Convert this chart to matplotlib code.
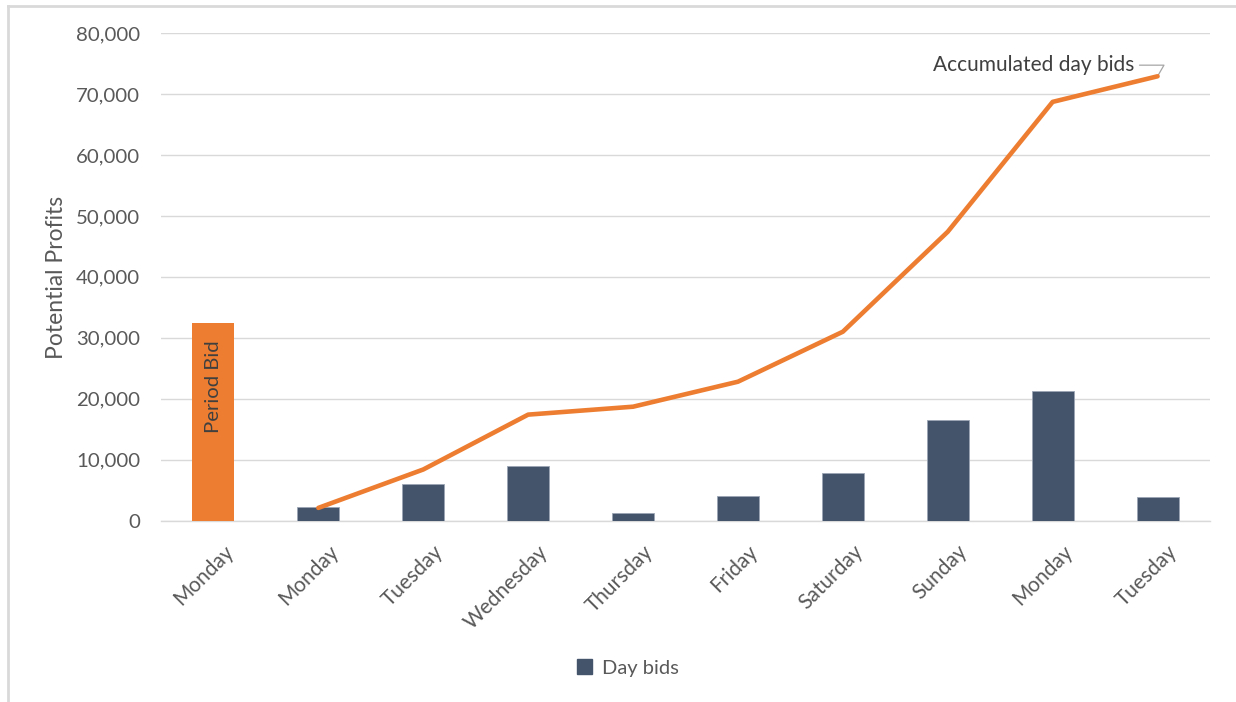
import matplotlib
matplotlib.use("Agg")
import matplotlib.pyplot as plt
import matplotlib.transforms as mtransforms
from matplotlib.lines import Line2D
from matplotlib.patches import Patch
from matplotlib.ticker import FuncFormatter

plt.rcParams['font.family'] = ['Lato', 'DejaVu Sans']

# Data
days = ["Monday", "Monday", "Tuesday", "Wednesday", "Thursday",
        "Friday", "Saturday", "Sunday", "Monday", "Tuesday"]
period_bid = 32500
day_bids = [2200, 6100, 8900, 1200, 4100, 7900, 16600, 21350, 3950]
accumulated = [2100, 8400, 17400, 18700, 22800, 31000, 47400, 68700, 72900]

ORANGE = "#ED7D31"
NAVY = "#44546A"
GRID = "#D9D9D9"
TEXT = "#595959"
DARK = "#404040"

fig = plt.figure(figsize=(12.36, 7.02), dpi=100)
ax = fig.add_axes([161 / 1236, 1 - 520.7 / 702, (1210 - 161) / 1236, (520.7 - 33) / 702])

x_all = list(range(len(days)))
x_days = x_all[1:]

ax.bar([0], [period_bid], width=0.4, color=ORANGE, zorder=3)
ax.bar(x_days, day_bids, width=0.4, color=NAVY, edgecolor="#9AA5B4",
       linewidth=0.6, zorder=3, label="Day bids")
ax.plot(x_days, accumulated, color=ORANGE, linewidth=3.3,
        solid_capstyle="round", zorder=4)

ax.text(0, 22000, "Period Bid", rotation=90, ha="center", va="center",
        color=DARK, fontsize=14.6, zorder=5)

ax.annotate("Accumulated day bids", xy=(x_days[-1], accumulated[-1]),
            xytext=(-17, 8), textcoords="offset points",
            ha="right", va="center", color=DARK, fontsize=15,
            arrowprops=dict(arrowstyle="-", color="#A6A6A6", lw=0.9,
                            connectionstyle="angle,angleA=0,angleB=60,rad=0",
                            shrinkA=2, shrinkB=1))

ax.set_xlim(-0.5, len(days) - 0.5)
ax.set_ylim(0, 80000)
ax.set_yticks(range(0, 80001, 10000))
ax.yaxis.set_major_formatter(FuncFormatter(lambda v, p: f"{int(v):,}"))
ax.grid(axis="y", color=GRID, linewidth=1.0, zorder=0)
ax.set_axisbelow(True)
for side in ["top", "right", "left"]:
    ax.spines[side].set_visible(False)
ax.spines["bottom"].set_color(GRID)
ax.spines["bottom"].set_linewidth(1.0)
ax.tick_params(axis="both", length=0, colors=TEXT)
ax.tick_params(axis="y", pad=15, labelsize=14.7)
ax.tick_params(axis="x", pad=0, labelsize=15)

ax.set_xticks(x_all)
ax.set_xticklabels(days, rotation=45, ha="right", va="center",
                   rotation_mode="anchor")
offset = mtransforms.ScaledTranslation(12 / 72, -20 / 72, fig.dpi_scale_trans)
for lbl in ax.get_xticklabels():
    lbl.set_transform(lbl.get_transform() + offset)

fig.text(57 / 1236, 1 - 277 / 702, "Potential Profits", rotation=90,
         ha="center", va="center", color=TEXT, fontsize=16.5)

fig.legend(handles=[Patch(facecolor=NAVY, edgecolor=NAVY, label="Day bids")],
           loc="center", bbox_to_anchor=(0.508, 1 - 668 / 702), frameon=False,
           fontsize=14.5, handlelength=0.75, handleheight=0.75, handletextpad=0.5,
           labelcolor=TEXT)

# Chart area border (left and top edges)
fig.add_artist(Line2D([8 / 1236, 8 / 1236], [0, 1 - 6 / 702],
                      transform=fig.transFigure, color=GRID, linewidth=2))
fig.add_artist(Line2D([8 / 1236, 1], [1 - 6 / 702, 1 - 6 / 702],
                      transform=fig.transFigure, color=GRID, linewidth=2))

fig.savefig("out.png", dpi=100, facecolor="white")
